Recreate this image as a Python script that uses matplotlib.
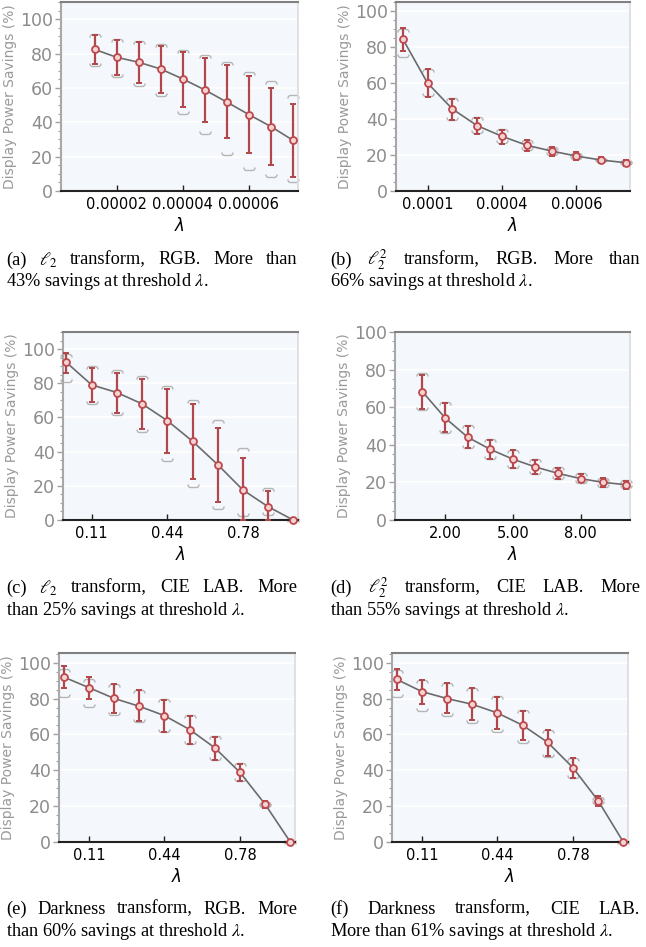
import numpy as np
import matplotlib.pyplot as plt
from matplotlib.path import Path
from matplotlib.ticker import MultipleLocator

plt.rcParams['font.family'] = ['DejaVu Sans']
plt.rcParams['mathtext.fontset'] = 'stix'

W, H = 646, 947

# ---- data ----
# (a) l2 transform, RGB
lam_a = [0.0000133, 0.00002, 0.0000267, 0.0000333, 0.00004,
         0.0000467, 0.0000533, 0.00006, 0.0000667, 0.0000733]
mean_a = [82.4, 77.8, 74.9, 71.0, 65.2, 58.8, 51.8, 44.5, 37.5, 29.6]
hi_a = [90.9, 88.0, 86.5, 84.5, 81.0, 77.6, 73.3, 66.7, 60.0, 50.7]
lo_a = [73.9, 67.5, 62.9, 57.3, 48.7, 40.2, 30.6, 21.9, 14.9, 8.3]
ghi_a = [91.5, 88.4, 87.2, 85.3, 82.2, 79.1, 74.9, 69.4, 63.8, 55.9]
glo_a = [73.0, 66.3, 60.9, 55.5, 44.7, 33.0, 21.1, 12.4, 7.9, 5.4]
ticklab_a = ['0.00002', '0.00004', '0.00006']

# (b) l2^2 transform, RGB
lam_b = [0.0000733, 0.0001467, 0.00022, 0.0002933, 0.0003667,
         0.00044, 0.0005133, 0.0005867, 0.00066, 0.0007333]
mean_b = [84.6, 60.0, 45.6, 36.3, 30.4, 25.4, 22.2, 19.4, 17.2, 15.7]
hi_b = [90.7, 67.6, 51.3, 40.7, 34.1, 28.5, 24.6, 21.5, 19.1, 17.4]
lo_b = [78.0, 52.4, 39.6, 31.9, 26.3, 22.4, 19.6, 17.2, 15.6, 14.1]
ghi_b = [90.0, 68.0, 51.5, 41.0, 34.5, 28.5, 24.2, 21.0, 18.6, 17.0]
glo_b = [74.3, 53.0, 39.6, 32.0, 26.5, 22.8, 20.0, 17.8, 16.0, 14.5]
ticklab_b = ['0.0001', '0.0004', '0.0006']

# (c) l2 transform, CIE LAB
lam_c = [0.0, 0.111, 0.222, 0.333, 0.444, 0.556, 0.667, 0.778, 0.889, 1.0]
mean_c = [92.2, 79.1, 74.6, 68.0, 58.2, 46.1, 32.4, 17.6, 7.8, 0.0]
hi_c = [98.0, 88.9, 86.3, 82.6, 76.9, 68.0, 54.1, 36.1, 17.0, 0.0]
lo_c = [86.3, 69.1, 62.7, 53.3, 39.3, 24.2, 10.5, 0.0, 0.0, 0.0]
ghi_c = [96.9, 90.0, 87.5, 84.0, 78.5, 70.3, 58.8, 42.2, 18.9, 0.5]
glo_c = [81.0, 68.0, 61.3, 51.2, 34.4, 19.5, 6.6, 2.3, 2.7, -0.5]
ticklab_c = ['0.11', '0.44', '0.78']

# (d) l2^2 transform, CIE LAB
lam_d = [1, 2, 3, 4, 5, 6, 7, 8, 9, 10]
mean_d = [68.3, 54.4, 44.1, 37.6, 32.4, 28.2, 24.8, 22.0, 20.0, 18.8]
hi_d = [77.1, 62.1, 50.0, 42.7, 37.1, 31.9, 27.8, 24.6, 22.5, 21.0]
lo_d = [59.2, 46.6, 38.5, 32.4, 27.8, 24.6, 21.8, 20.0, 17.7, 16.5]
ghi_d = [78.4, 62.6, 50.5, 43.1, 37.2, 32.2, 28.0, 24.8, 22.6, 21.2]
glo_d = [58.5, 46.3, 38.1, 32.3, 27.7, 24.4, 21.7, 19.6, 17.8, 16.8]
ticklab_d = ['2.00', '5.00', '8.00']

# (e) Darkness transform, RGB
lam_e = lam_c
mean_e = [92.0, 86.1, 80.1, 75.7, 70.5, 62.7, 52.5, 38.8, 21.0, 0.0]
hi_e = [98.1, 92.0, 87.9, 84.6, 79.4, 70.3, 58.8, 43.6, 22.8, 0.0]
lo_e = [86.1, 79.8, 72.2, 67.5, 61.6, 54.9, 45.6, 34.0, 18.9, 0.0]
ghi_e = [96.3, 90.7, 88.3, 85.0, 79.8, 70.9, 59.0, 43.8, 22.5, 0.8]
glo_e = [80.9, 75.3, 70.7, 67.0, 61.2, 54.5, 45.5, 33.8, 19.5, -0.8]

# (f) Darkness transform, CIE LAB
lam_f = lam_c
mean_f = [90.7, 83.9, 80.0, 76.8, 72.0, 65.1, 55.5, 41.4, 23.0, 0.0]
hi_f = [96.5, 90.4, 88.5, 85.7, 81.1, 73.3, 62.5, 46.9, 25.8, 0.0]
lo_f = [84.6, 77.0, 71.8, 67.9, 63.1, 56.8, 47.9, 35.8, 20.0, 0.0]
ghi_f = [95.7, 90.2, 88.9, 86.1, 81.3, 73.5, 62.7, 47.1, 25.0, 0.8]
glo_f = [80.9, 73.1, 70.1, 66.4, 61.6, 55.3, 47.5, 35.6, 21.0, -0.8]

captions = [
    ('(a) $\\ell_2$ transform, RGB. More than', '43% savings at threshold $\\lambda$.'),
    ('(b) $\\ell_2^2$ transform, RGB. More than', '66% savings at threshold $\\lambda$.'),
    ('(c) $\\ell_2$ transform, CIE LAB. More', 'than 25% savings at threshold $\\lambda$.'),
    ('(d) $\\ell_2^2$ transform, CIE LAB. More', 'than 55% savings at threshold $\\lambda$.'),
    ('(e) Darkness transform, RGB. More', 'than 60% savings at threshold $\\lambda$.'),
    ('(f) Darkness transform, CIE LAB.', 'More than 61% savings at threshold $\\lambda$.'),
]

# bracket shaped markers for the grey range
top_br = Path([(-1, -0.55), (-1, 0), (-0.55, 0), (0.55, 0), (1, 0), (1, -0.55)],
              [Path.MOVETO, Path.CURVE3, Path.CURVE3, Path.LINETO, Path.CURVE3, Path.CURVE3])
bot_br = Path([(-1, 0.55), (-1, 0), (-0.55, 0), (0.55, 0), (1, 0), (1, 0.55)],
              [Path.MOVETO, Path.CURVE3, Path.CURVE3, Path.LINETO, Path.CURVE3, Path.CURVE3])

red = '#b0474a'


def panel(rect, lam, mean, lo, hi, glo, ghi, xlim, ylim, ticklab):
    l, t, r, b = rect
    ax = fig.add_axes([l / W, 1 - b / H, (r - l) / W, (b - t) / H])
    ax.set_facecolor('#f4f8fd')
    ax.set_xlim(*xlim)
    ax.set_ylim(*ylim)
    for y in range(20, 101, 20):
        ax.axhline(y, color='white', lw=1.2, zorder=0)
    lam = np.array(lam)
    mean = np.array(mean)
    ax.plot(lam, mean, color='#6b6b6b', lw=1.2, zorder=2)
    ax.plot(lam, ghi, ls='none', marker=top_br, ms=8, mfc='none', mec='#b5b5b5',
            mew=1.0, zorder=1, clip_on=False)
    ax.plot(lam, glo, ls='none', marker=bot_br, ms=8, mfc='none', mec='#b5b5b5',
            mew=1.0, zorder=1, clip_on=False)
    err = [mean - np.array(lo), np.array(hi) - mean]
    ax.errorbar(lam, mean, yerr=err, fmt='none', ecolor=red, elinewidth=1.6,
                capsize=2.5, capthick=1.4, zorder=3)
    ax.plot(lam, mean, ls='none', marker='o', ms=5, mfc='#f2d4d4', mec='#c0484c',
            mew=1.3, zorder=4, clip_on=False)

    ax.set_xticks([lam[1], lam[4], lam[7]])
    ax.set_xticklabels(ticklab)
    ax.set_yticks(range(0, 101, 20))
    ax.yaxis.set_minor_locator(MultipleLocator(5))
    ax.tick_params(axis='x', direction='in', length=4, width=1, color='#222222',
                   labelsize=10.5, labelcolor='black', pad=4, top=False)
    ax.tick_params(axis='y', which='major', direction='out', length=4, width=1,
                   color='#a0a0a0', labelsize=12.5, labelcolor='#8c8c8c', pad=2)
    ax.tick_params(axis='y', which='minor', direction='out', length=2,
                   width=0.8, color='#a0a0a0')
    ax.spines['top'].set_color('#808080')
    ax.spines['top'].set_linewidth(1.5)
    ax.spines['left'].set_color('#a8a8a8')
    ax.spines['left'].set_linewidth(1.5)
    ax.spines['right'].set_color('#dcdcdc')
    ax.spines['right'].set_linewidth(1.2)
    ax.spines['bottom'].set_color('#222222')
    ax.spines['bottom'].set_linewidth(1.5)
    ax.set_ylabel('Display Power Savings (%)', fontsize=10, color='#9a9a9a', labelpad=2)
    ax.set_xlabel('λ', fontsize=12, fontstyle='italic', labelpad=4)
    return ax


def caption(x0, x1, y, line1, line2):
    kw = dict(family='Liberation Serif', fontsize=13.2, va='center', ha='left')
    words = line1.split(' ')
    texts = [fig.text(0, 1 - y / H, w, **kw) for w in words]
    rend = fig.canvas.get_renderer()
    widths = [tx.get_window_extent(rend).width for tx in texts]
    gap = (x1 - x0 - sum(widths)) / (len(words) - 1)
    pos = x0
    for tx, w in zip(texts, widths):
        tx.set_x(pos / W)
        pos += w + gap
    fig.text(x0 / W, 1 - (y + 22) / H, line2, **kw)


fig = plt.figure(figsize=(W / 100, H / 100), dpi=100)

panel((61, 2, 298, 191), lam_a, mean_a, lo_a, hi_a, glo_a, ghi_a,
      (0.0000031, 0.0000749), (0, 110), ticklab_a)
panel((396, 2, 630, 191), lam_b, mean_b, lo_b, hi_b, glo_b, ghi_b,
      (0.0000536, 0.000745), (0, 105), ticklab_b)
panel((63, 332, 298, 520), lam_c, mean_c, lo_c, hi_c, glo_c, ghi_c,
      (-0.015, 1.021), (0, 110), ticklab_c)
panel((395, 332, 630, 520), lam_d, mean_d, lo_d, hi_d, glo_d, ghi_d,
      (-0.206, 10.18), (0, 100), ticklab_d)
panel((59, 653, 295, 842), lam_e, mean_e, lo_e, hi_e, glo_e, ghi_e,
      (-0.0206, 1.0206), (0, 105.4), ticklab_c)
panel((392, 653, 628, 842), lam_f, mean_f, lo_f, hi_f, glo_f, ghi_f,
      (-0.0206, 1.0206), (0, 105.4), ticklab_c)

cap_y = [260, 260, 588, 588, 909, 909]
cap_x = [(6, 297), (330, 640)] * 3
for (l1, l2), y, (x0, x1) in zip(captions, cap_y, cap_x):
    caption(x0, x1, y, l1, l2)

fig.savefig('out.png', dpi=100)
